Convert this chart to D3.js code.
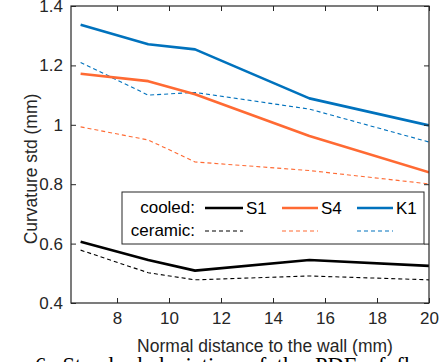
<!DOCTYPE html>
<html><head><meta charset="utf-8">
<script src="https://cdn.jsdelivr.net/npm/d3@7"></script>
<style>body{margin:0;background:#fff;}svg{display:block;font-family:"Liberation Sans",Arial,sans-serif;}</style>
</head><body>
<svg id="c" width="440" height="362"></svg>
<script>
const xVals = [6.6, 9.2, 11.0, 15.4, 20.0];
const s1Cooled = [0.606, 0.545, 0.509, 0.545, 0.525];
const s1Ceramic = [0.578, 0.502, 0.478, 0.491, 0.478];
const s4Cooled = [1.172, 1.147, 1.103, 0.962, 0.840];
const s4Ceramic = [0.993, 0.949, 0.875, 0.846, 0.801];
const k1Cooled = [1.337, 1.271, 1.254, 1.089, 0.998];
const k1Ceramic = [1.210, 1.100, 1.109, 1.053, 0.942];
const xTicks = [8, 10, 12, 14, 16, 18, 20];
const yTicks = [0.4, 0.6, 0.8, 1.0, 1.2, 1.4];
const seriesNames = ["S1", "S4", "K1"];
const colors = {S1: "#000000", S4: "#FF6A33", K1: "#0072BD"};

const svg = d3.select("#c");
const L = 71, R = 429, T = 6, B = 303;
const x = d3.scaleLinear().domain([6.23, 20]).range([L, R]);
const y = d3.scaleLinear().domain([0.4, 1.4]).range([B, T]);

const series = [
  {name:"S1", vals:s1Cooled, dashed:false},
  {name:"S1", vals:s1Ceramic, dashed:true},
  {name:"S4", vals:s4Cooled, dashed:false},
  {name:"S4", vals:s4Ceramic, dashed:true},
  {name:"K1", vals:k1Cooled, dashed:false},
  {name:"K1", vals:k1Ceramic, dashed:true}
];
const line = d3.line().x((d,i)=>x(xVals[i])).y(d=>y(d));
const g = svg.append("g");
g.append("defs").append("clipPath").attr("id","clip").append("rect")
  .attr("x",L).attr("y",T).attr("width",R-L).attr("height",B-T);
const plot = g.append("g").attr("clip-path","url(#clip)");
series.filter(s=>s.dashed).concat(series.filter(s=>!s.dashed)).forEach(s=>{
  plot.append("path").datum(s.vals).attr("d",line).attr("fill","none")
    .attr("stroke",colors[s.name])
    .attr("stroke-width", s.dashed?1.1:2.6)
    .attr("stroke-dasharray", s.dashed?"4,3":null)
    .attr("stroke-linejoin","round");
});

// axes
const fs = 17;
const ax = g.append("g").attr("transform",`translate(0,${B})`)
  .call(d3.axisBottom(x).tickValues(xTicks).tickSizeInner(-5).tickSizeOuter(0).tickPadding(9).tickFormat(d3.format("d")));
const axT = g.append("g").attr("transform",`translate(0,${T})`)
  .call(d3.axisTop(x).tickValues(xTicks).tickSizeInner(-5).tickSizeOuter(0).tickFormat(""));
const ay = g.append("g").attr("transform",`translate(${L},0)`)
  .call(d3.axisLeft(y).tickValues(yTicks).tickSizeInner(-5).tickSizeOuter(0).tickPadding(8).tickFormat(d=>d3.format("")(+d.toFixed(1))));
const ayR = g.append("g").attr("transform",`translate(${R},0)`)
  .call(d3.axisRight(y).tickValues(yTicks).tickSizeInner(-5).tickSizeOuter(0).tickFormat(""));
[ax,axT,ay,ayR].forEach(a=>{
  a.selectAll("path.domain").remove();
  a.selectAll("line").attr("stroke","#262626").attr("stroke-width",1);
  a.selectAll("text").attr("font-size",fs).attr("fill","#262626").attr("font-family","Liberation Sans, Arial, sans-serif");
});
g.append("rect").attr("x",L).attr("y",T).attr("width",R-L).attr("height",B-T)
  .attr("fill","none").attr("stroke","#262626").attr("stroke-width",1.2);

// axis labels
g.append("text").attr("x",265).attr("y",352).attr("text-anchor","middle")
  .attr("font-size",17.5).attr("fill","#262626").text("Normal distance to the wall (mm)");
g.append("text").attr("transform",`translate(37,169) rotate(-90)`).attr("text-anchor","middle")
  .attr("font-size",17.5).attr("fill","#262626").text("Curvature std (mm)");

// legend
const lg = g.append("g");
lg.append("rect").attr("x",122).attr("y",192).attr("width",302).attr("height",52)
  .attr("fill","#fff").attr("stroke","#262626").attr("stroke-width",1);
lg.append("text").attr("x",195).attr("y",213).attr("text-anchor","end").attr("font-size",fs).attr("fill","#000").text("cooled:");
lg.append("text").attr("x",195).attr("y",236).attr("text-anchor","end").attr("font-size",fs).attr("fill","#000").text("ceramic:");
const lx = {S1:[205,243], S4:[282,318], K1:[357,393]};
seriesNames.forEach(n=>{
  const [a,b] = lx[n];
  lg.append("line").attr("x1",a).attr("x2",b).attr("y1",208).attr("y2",208)
    .attr("stroke",colors[n]).attr("stroke-width",2.6);
  lg.append("line").attr("x1",a).attr("x2",b).attr("y1",231).attr("y2",231)
    .attr("stroke",colors[n]).attr("stroke-width",1.1).attr("stroke-dasharray","4,3");
  lg.append("text").attr("x",b+3).attr("y",214).attr("font-size",fs).attr("fill","#000").text(n);
});

// caption (clipped at bottom, as in the reference)
svg.append("text").attr("x",35).attr("y",373).attr("font-family","Liberation Serif, Times New Roman, serif")
  .attr("font-size",22.5).attr("word-spacing",5).attr("fill","#000").text("6. Standard deviation of the PDF of flame");
</script>
</body></html>
